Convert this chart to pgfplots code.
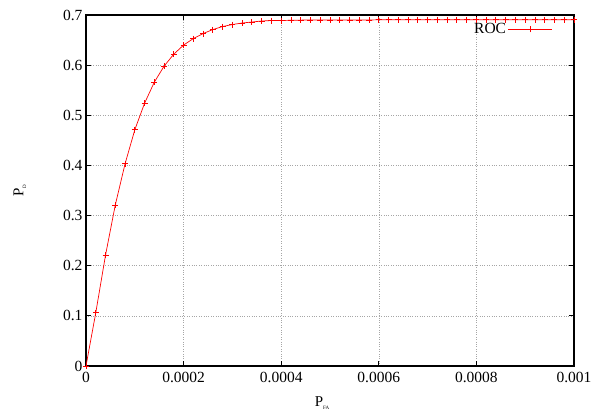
\documentclass[border=0pt]{standalone}
\usepackage{fontspec}
\setmainfont{Liberation Serif}
\usepackage{pgfplots}
\pgfplotsset{compat=1.18}
\usetikzlibrary{calc}

\pgfplotstableread{
x y
0 0
0.00002 0.106
0.00004 0.221
0.00006 0.321
0.00008 0.403
0.00010 0.471
0.00012 0.524
0.00014 0.566
0.00016 0.598
0.00018 0.622
0.00020 0.640
0.00022 0.653
0.00024 0.663
0.00026 0.671
0.00028 0.677
0.00030 0.681
0.00032 0.684
0.00034 0.686
0.00036 0.688
0.00038 0.689
0.00040 0.689
0.00042 0.6895
0.00044 0.6898
0.00046 0.690
0.00048 0.690
0.00050 0.690
0.00052 0.690
0.00054 0.690
0.00056 0.690
0.00058 0.690
0.00060 0.6905
0.00062 0.6905
0.00064 0.6905
0.00066 0.6905
0.00068 0.6905
0.00070 0.6905
0.00072 0.6905
0.00074 0.6905
0.00076 0.6905
0.00078 0.6905
0.00080 0.6905
0.00082 0.6905
0.00084 0.6905
0.00086 0.6905
0.00088 0.6905
0.00090 0.6905
0.00092 0.6905
0.00094 0.6905
0.00096 0.6905
0.00098 0.6905
0.00100 0.6905
}\roc

\begin{document}
\begin{tikzpicture}
\begin{axis}[
  scale only axis,
  width=488pt, height=351pt,
  xmin=0, xmax=0.001,
  ymin=0, ymax=0.7,
  xtick={0,0.0002,0.0004,0.0006,0.0008,0.001},
  ytick={0,0.1,0.2,0.3,0.4,0.5,0.6,0.7},
  scaled x ticks=false,
  xticklabel={\pgfmathprintnumber[fixed,precision=4,assume math mode=true]{\tick}},
  yticklabel={\pgfmathprintnumber[fixed,precision=1,assume math mode=true]{\tick}},
  xticklabel style={yshift=-3pt},
  tick label style={font=\fontsize{15.5}{18}\selectfont},
  tick align=inside,
  major tick length=5pt,
  tick style={black, line width=0.9pt},
  axis line style={black, line width=1.4pt},
  grid=major,
  major grid style={gray!70, dotted, line width=0.6pt},
  xlabel={P\raisebox{-0.4ex}{\fontsize{5}{5}\selectfont FA}},
  ylabel={P\raisebox{-0.4ex}{\fontsize{5}{5}\selectfont D}},
  label style={font=\fontsize{15}{17}\selectfont},
  xlabel style={xshift=-8pt, yshift=-7pt},
  ylabel style={yshift=30pt},
  legend style={at={(0.963,0.988)}, anchor=north east, draw=none, fill=none,
    font=\fontsize{15.5}{18}\selectfont},
  legend cell align=right,
  legend plot pos=right,
  legend image code/.code={
    \draw[red, line width=0.7pt] (10pt,0pt) -- (54pt,0pt);
    \draw[red, line width=0.9pt] (32pt,-3pt) -- (32pt,3pt);
  },
]
\addplot[red, line width=0.7pt, mark=+, mark size=3pt,
  mark options={draw=red, line width=0.9pt, solid}] table[x=x, y=y] {\roc};
\addlegendentry{ROC}
\end{axis}
\pgfresetboundingbox
\useasboundingbox ($(current axis.south west)+(-86pt,-50pt)$) rectangle ($(current axis.north east)+(18pt,15pt)$);
\end{tikzpicture}
\end{document}
